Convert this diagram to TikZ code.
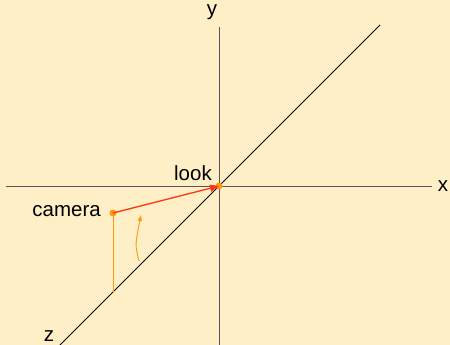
\documentclass[tikz,border=0pt]{standalone}
\usepackage{fontspec}
\setmainfont{Liberation Sans}
\usetikzlibrary{arrows.meta}
\definecolor{bg}{HTML}{FEEFC7}
\definecolor{axisgray}{HTML}{555555}
\definecolor{redline}{HTML}{FF3311}
\definecolor{orangeline}{HTML}{FF9911}
\tikzset{
  axisline/.style={draw=axisgray, line width=0.9pt},
  zline/.style={draw=black, line width=0.8pt},
  lbl/.style={font=\fontsize{20.5}{22}\selectfont, text=black, inner sep=0pt},
  dot/.style={circle, fill=orangeline, inner sep=0pt, minimum size=7pt},
}
\begin{document}
\begin{tikzpicture}[x=1pt, y=-1pt]
\fill[bg] (0,0) rectangle (450,345);
\useasboundingbox (0,0) rectangle (450,345);
\coordinate (xl) at (6,186);
\coordinate (xr) at (432,186);
\coordinate (yt) at (219,27);
\coordinate (yb) at (219,346);
\coordinate (zt) at (380,25);
\coordinate (zb) at (59,346);
\coordinate (foot) at (113,292);
\coordinate (cs) at (139,261);
\coordinate (ce) at (141,215);
\draw[axisline] (xl) -- (xr);
\draw[axisline] (yt) -- (yb);
\draw[zline] (zt) -- (zb);
\node[lbl] (xlab) at (443,186) {x};
\node[lbl] (ylab) at (212,12) {y};
\node[lbl] (zlab) at (49,336) {z};
\node[dot] (cam) at (113,213) {};
\node[dot] (look) at (219,186) {};
\node[lbl, anchor=east] (camlab) at (101,211) {camera};
\node[lbl] (looklab) at (193,173) {look};
\draw[orangeline, line width=1pt] (cam.center) -- (foot);
\draw[redline, line width=1.3pt, -{Triangle[length=9pt,width=7pt]}] (cam.center) -- (look.center);
\draw[orangeline, line width=0.9pt, -{Triangle[length=6pt,width=4pt]}] (cs) .. controls (135,245) .. (ce);
\end{tikzpicture}
\end{document}
